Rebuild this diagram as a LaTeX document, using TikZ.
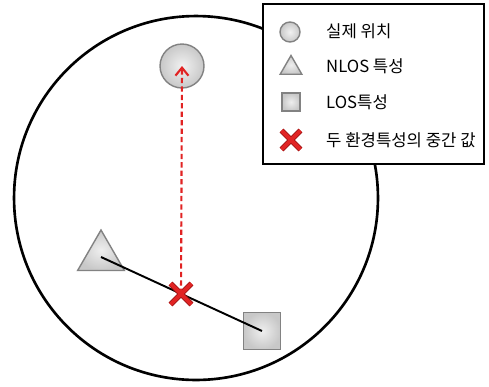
\documentclass[tikz,border=0pt]{standalone}
\usepackage{fontspec}
\setmainfont{Noto Sans CJK KR}
\usepackage{xcolor}
\usetikzlibrary{arrows.meta, positioning, shapes.geometric, shapes.misc}
\definecolor{markgray}{RGB}{200,200,200}
\definecolor{markedge}{RGB}{130,130,130}
\definecolor{xred}{RGB}{225,35,35}
\definecolor{xdark}{RGB}{160,20,20}

\begin{document}
\begin{tikzpicture}[x=0.02cm, y=-0.02cm,
    area/.style={draw=black, line width=1.5pt},
    realpos/.style={circle, draw=markedge, line width=0.8pt, inner color=white!75!markgray, outer color=markgray, inner sep=0pt},
    nlos/.style={regular polygon, regular polygon sides=3, draw=markedge, line width=0.8pt, inner color=white!70!markgray, outer color=markgray, inner sep=0pt},
    los/.style={rectangle, draw=markedge, line width=0.8pt, inner color=white!70!markgray, outer color=markgray, inner sep=0pt},
    midmark/.style={cross out, draw=xdark, line width=0.5pt, double=xred, double distance=2.2pt, inner sep=0pt},
    legendbox/.style={rectangle, draw=black, line width=0.9pt, fill=white, minimum width=4.42cm, minimum height=3.2cm},
    legendtext/.style={anchor=west, font=\fontsize{9.5}{11}\selectfont},
    arrow/.style={-{Straight Barb[length=1.6mm, width=2.6mm]}, draw=xred, line width=1.2pt, dash pattern=on 3pt off 1.8pt}
]
\useasboundingbox (0,0) rectangle (489,386);

% coverage area
\node[circle, area, minimum size=7.28cm, inner sep=0pt] (cell) at (196,198) {};

% estimates
\node[nlos, minimum size=1.08cm] (tri) at (101,257) {};
\node[los, minimum size=0.74cm] (sq) at (262,331) {};
\node[realpos, minimum size=0.88cm] (real) at (182,66) {};

\draw[line width=1.1pt] (tri.center) -- (sq.center);
\node[midmark, minimum size=0.4cm] (mid) at (181,294) {};
\draw[arrow] (mid.center) -- (real.center);

% legend
\node[legendbox] (legend) at (373.5,84) {};
\node[realpos, minimum size=0.4cm] (lgreal) at (290,32) {};
\node[nlos, minimum size=0.5cm] (lgtri) at (291,68) {};
\node[los, minimum size=0.36cm] (lgsq) at (291,102) {};
\node[midmark, minimum size=0.36cm] (lgmid) at (291,140) {};
\node[legendtext] (t1) at (320,31) {실제 위치};
\node[legendtext] (t2) at (320,66) {NLOS 특성};
\node[legendtext] (t3) at (320,102) {LOS특성};
\node[legendtext] (t4) at (320,140) {두 환경특성의 중간 값};
\end{tikzpicture}
\end{document}
